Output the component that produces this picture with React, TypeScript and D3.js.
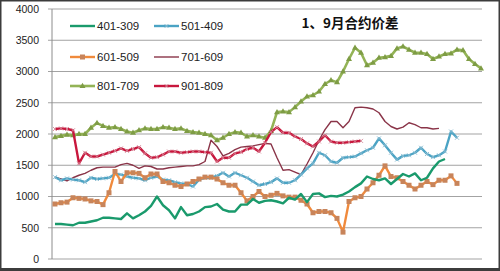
import React from "react";
import * as d3 from "d3";

const title = "1、9月合约价差";
const yTicks = [0, 500, 1000, 1500, 2000, 2500, 3000, 3500, 4000];

const s401_309 = [560, 560, 550, 540, 580, 580, 600, 620, 660, 660, 650, 640, 730, 650, 700, 760, 850, 1000, 860, 780, 650, 830, 700, 720, 760, 830, 840, 880, 790, 760, 760, 870, 870, 960, 900, 930, 940, 920, 890, 980, 950, 1040, 910, 1040, 1050, 990, 1010, 1000, 1030, 1080, 1150, 1210, 1320, 1280, 1260, 1290, 1200, 1280, 1360, 1320, 1370, 1260, 1300, 1450, 1560, 1600];
const s501_409 = [1310, 1260, 1290, 1270, 1260, 1230, 1300, 1280, 1290, 1300, 1360, 1350, 1320, 1300, 1290, 1260, 1300, 1320, 1270, 1260, 1230, 1210, 1200, 1160, 1270, 1300, 1300, 1330, 1380, 1320, 1380, 1340, 1300, 1240, 1180, 1200, 1230, 1290, 1220, 1220, 1260, 1350, 1450, 1530, 1700, 1660, 1560, 1540, 1620, 1630, 1640, 1690, 1740, 1780, 1930, 1820, 1700, 1590, 1650, 1660, 1700, 1780, 1680, 1630, 1660, 1720, 2040, 1940];
const s601_509 = [880, 900, 910, 980, 970, 960, 930, 920, 870, 1060, 1400, 1240, 1380, 1380, 1370, 1300, 1360, 1360, 1240, 1220, 1180, 1160, 1200, 1240, 1280, 1310, 1310, 1280, 1220, 1180, 1180, 1060, 930, 1000, 1080, 1000, 1020, 1050, 1010, 990, 990, 940, 880, 740, 760, 760, 740, 650, 430, 920, 980, 1000, 1120, 1220, 1340, 1490, 1320, 1300, 1240, 1180, 1120, 1180, 1240, 1190, 1260, 1260, 1330, 1210];
const s701_609 = [1310, 1280, 1250, 1300, 1340, 1370, 1420, 1460, 1470, 1470, 1470, 1510, 1530, 1500, 1450, 1490, 1480, 1440, 1440, 1460, 1470, 1480, 1490, 1490, 1510, 1560, 1900, 1800, 1650, 1690, 1750, 1790, 1800, 1810, 1830, 1850, 1840, 1620, 1420, 1430, 1390, 1350, 1520, 1700, 1900, 2070, 2200, 2200, 2100, 2200, 2420, 2430, 2420, 2400, 2340, 2200, 2120, 2080, 2110, 2180, 2150, 2100, 2100, 2080, 2090];
const s801_709 = [1950, 1970, 1990, 1980, 2000, 2000, 2100, 2175, 2130, 2100, 2110, 2080, 2040, 2020, 2060, 2090, 2080, 2080, 2110, 2100, 2080, 2090, 2050, 2030, 2020, 2000, 1980, 1900, 1940, 2000, 2030, 2020, 1960, 1980, 1960, 1940, 2050, 2350, 2360, 2350, 2430, 2520, 2600, 2620, 2680, 2800, 2860, 2830, 3000, 3200, 3380, 3300, 3100, 3140, 3220, 3230, 3250, 3370, 3400, 3350, 3300, 3300, 3280, 3200, 3240, 3280, 3290, 3350, 3340, 3200, 3120, 3050];
const s901_809 = [2080, 2090, 2080, 2060, 1530, 1700, 1640, 1640, 1670, 1700, 1730, 1770, 1730, 1760, 1790, 1690, 1620, 1630, 1670, 1720, 1720, 1700, 1710, 1720, 1720, 1710, 1700, 1560, 1620, 1620, 1690, 1710, 1760, 1780, 1720, 1860, 2030, 2110, 2020, 2020, 1960, 1920, 1850, 1800, 1880, 1980, 1880, 1860, 1860, 1870, 1880, 1890];

const seriesNames = ["401-309", "501-409", "601-509", "701-609", "801-709", "901-809"];
const seriesData = [s401_309, s501_409, s601_509, s701_609, s801_709, s901_809];
const colors = ["#1a9a6c", "#4aa3c4", "#f08a3c", "#8a3448", "#93b356", "#c8173d"];
const markerColors = ["#1a9a6c", "#8bbbd0", "#c8845a", "none", "#7e9c45", "#d58a9a"];
const markerTypes = ["none", "x", "square", "none", "triangle", "x"];
const widths = [2.4, 2.4, 2.4, 1.4, 2.6, 2.4];
const drawOrder = [4, 3, 1, 2, 0, 5];

const W = 500;
const H = 271;
const x = d3.scaleLinear().domain([0, 71]).range([55, 481]);
const y = d3.scaleLinear().domain([0, 4000]).range([259, 9]);

function Marker({ type, cx, cy, color }: { type: string; cx: number; cy: number; color: string }) {
  if (type === "square") {
    return <rect x={cx - 2.5} y={cy - 2.5} width={5} height={5} fill={color} />;
  }
  if (type === "triangle") {
    return <path d={`M${cx},${cy - 3.2}L${cx + 3},${cy + 2}L${cx - 3},${cy + 2}Z`} fill={color} />;
  }
  if (type === "x") {
    return (
      <path
        d={`M${cx - 2},${cy - 2}L${cx + 2},${cy + 2}M${cx - 2},${cy + 2}L${cx + 2},${cy - 2}`}
        stroke={color}
        strokeWidth={0.9}
        fill="none"
      />
    );
  }
  return null;
}

export default function App() {
  const line = d3
    .line<number>()
    .x((_, i) => x(i))
    .y((d) => y(d));

  const legendRows = [26, 57, 86];
  const legendCols = [70, 154];

  return (
    <svg
      width={W}
      height={H}
      style={{ position: "absolute", left: 0, top: 0, background: "#fff" }}
      fontFamily="Liberation Sans, Arial, sans-serif"
    >
      <rect x={0} y={0} width={W} height={H} fill="#fff" />
      {/* gridlines */}
      {yTicks.map((t) => (
        <line key={t} x1={48} x2={482} y1={y(t)} y2={y(t)} stroke="#a3a3a3" strokeWidth={1} />
      ))}
      <line x1={52} x2={52} y1={y(4000)} y2={y(0)} stroke="#8c8c8c" strokeWidth={1} />
      {yTicks.map((t) => (
        <text key={"l" + t} x={39} y={y(t) + 3.8} textAnchor="end" fontSize={10.5} fill="#222">
          {t}
        </text>
      ))}
      {/* series */}
      {drawOrder.map((si) => {
        const data = seriesData[si];
        return (
          <g key={seriesNames[si]}>
            <path d={line(data) || ""} fill="none" stroke={colors[si]} strokeWidth={widths[si]} strokeLinejoin="round" />
            {markerTypes[si] !== "none" &&
              data.map((v, i) => (
                <Marker key={i} type={markerTypes[si]} cx={x(i)} cy={y(v)} color={markerColors[si]} />
              ))}
          </g>
        );
      })}
      {/* legend */}
      {seriesNames.map((name, si) => {
        const row = Math.floor(si / 2);
        const col = si % 2;
        const lx = legendCols[col];
        const ly = legendRows[row];
        return (
          <g key={"leg" + name}>
            <line x1={lx} x2={lx + 25} y1={ly} y2={ly} stroke={colors[si]} strokeWidth={widths[si]} />
            {markerTypes[si] !== "none" && (
              <Marker type={markerTypes[si]} cx={lx + 12.5} cy={ly} color={markerColors[si]} />
            )}
            <text x={lx + 27} y={ly + 4.2} fontSize={11.5} fill="#222">
              {name}
            </text>
          </g>
        );
      })}
      <text
        x={350}
        y={28}
        textAnchor="middle"
        fontSize={13.5}
        fontWeight="bold"
        fill="#111"
        fontFamily="Noto Sans CJK SC, sans-serif"
      >
        {title}
      </text>
      {/* frame */}
      <rect x={0.75} y={0.75} width={W - 1.5} height={H - 2.5} fill="none" stroke="#3c3c3c" strokeWidth={1.5} />
      <line x1={0} x2={W} y1={269.5} y2={269.5} stroke="#3c3c3c" strokeWidth={3} />
    </svg>
  );
}
